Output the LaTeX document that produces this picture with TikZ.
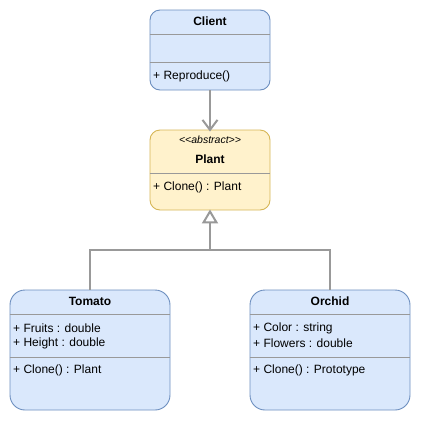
\documentclass[tikz,border=0pt]{standalone}
\usepackage{fontspec}
\setmainfont{Liberation Sans}
\usepackage{tikz}
\usetikzlibrary{arrows.meta,positioning,calc}
\definecolor{plantBlueFill}{HTML}{DAE8FC}
\definecolor{plantBlueLine}{HTML}{6C8EBF}
\definecolor{plantYellowFill}{HTML}{FFF2CC}
\definecolor{plantYellowLine}{HTML}{D6B656}
\definecolor{plantGray}{HTML}{999999}
\tikzset{
  umlbox/.style={draw=plantBlueLine,fill=plantBlueFill,rounded corners=10pt,line width=0.9pt,
    minimum width=120pt,minimum height=80pt,inner sep=0pt},
  leafbox/.style={umlbox,rounded corners=15pt,minimum width=160pt,minimum height=120pt},
  absbox/.style={umlbox,draw=plantYellowLine,fill=plantYellowFill},
  title/.style={font=\fontsize{12}{14}\selectfont\bfseries,inner sep=0pt},
  member/.style={font=\fontsize{12}{14}\selectfont,anchor=west,inner sep=0pt},
  stereo/.style={font=\fontsize{10.5}{12}\selectfont\itshape,inner sep=0pt},
  sep/.style={draw=plantGray,line width=0.8pt},
  uses/.style={draw=plantGray,line width=2pt,-{Straight Barb[length=10pt,width=15pt,line width=2pt]}},
  gen/.style={draw=plantGray,line width=2pt,-{Triangle[open,length=14pt,width=16pt,line width=2pt,fill=white]}},
  bus/.style={draw=plantGray,line width=2pt}
}
\begin{document}
\begin{tikzpicture}[x=1pt,y=-1pt]
  \useasboundingbox (0,0) rectangle (421,421);

  % client on top
  \node[umlbox] (client) at (210,50) {};
  \node[title] (clientName) at (210,21) {Client};
  \draw[sep] (client.west |- 0,34) -- (client.east |- 0,34);
  \draw[sep] (client.west |- 0,62) -- (client.east |- 0,62);
  \node[member] (clientOp) at (153,76) {+ Reproduce()};

  % abstract prototype
  \node[absbox] (plant) at (210,170) {};
  \node[stereo] (plantStereo) at (210,140) {{<}{<}abstract{>}{>}};
  \node[title] (plantName) at (210,159) {Plant};
  \draw[sep] (plant.west |- 0,173) -- (plant.east |- 0,173);
  \node[member] (plantOp) at (153,187) {+ Clone() : Plant};

  % concrete prototypes
  \node[leafbox] (tomato) at (90,350) {};
  \node[title] (tomatoName) at (90,301) {Tomato};
  \draw[sep] (tomato.west |- 0,314) -- (tomato.east |- 0,314);
  \node[member] (tomatoFruits) at (13,328) {+ Fruits : double};
  \node[member] (tomatoHeight) at (13,343) {+ Height : double};
  \draw[sep] (tomato.west |- 0,357) -- (tomato.east |- 0,357);
  \node[member] (tomatoOp) at (13,370) {+ Clone() : Plant};

  \node[leafbox] (orchid) at (330,350) {};
  \node[title] (orchidName) at (330,301) {Orchid};
  \draw[sep] (orchid.west |- 0,314) -- (orchid.east |- 0,314);
  \node[member] (orchidColor) at (253,328) {+ Color : string};
  \node[member] (orchidFlowers) at (253,343) {+ Flowers : double};
  \draw[sep] (orchid.west |- 0,357) -- (orchid.east |- 0,357);
  \node[member] (orchidOp) at (253,370) {+ Clone() : Prototype};

  % connectors
  \coordinate (junction) at (210,250);
  \draw[uses] (client.south) -- ([yshift=-2pt]plant.north);
  \draw[gen] (tomato.north) |- (junction) -- ([yshift=1pt]plant.south);
  \draw[bus] (orchid.north) |- (junction);
\end{tikzpicture}
\end{document}
